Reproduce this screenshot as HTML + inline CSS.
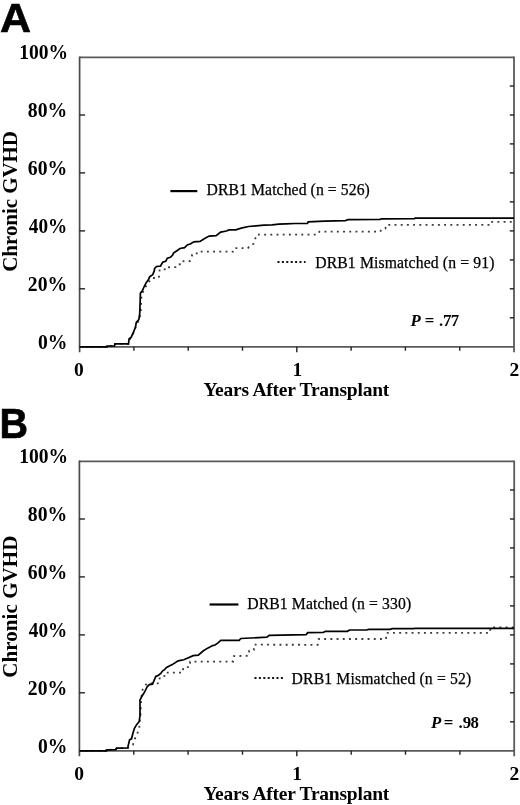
<!DOCTYPE html>
<html><head><meta charset="utf-8"><title>Chronic GVHD cumulative incidence</title><style>
html,body{margin:0;padding:0;background:#fff;}
body{width:520px;height:805px;overflow:hidden;}
svg{display:block;}
.lab{font-family:"Liberation Sans",sans-serif;font-weight:bold;font-size:39.5px;fill:#000;stroke:#000;stroke-width:0.6px;}
.tk{font-family:"Liberation Serif",serif;font-weight:bold;font-size:19.5px;fill:#000;}
.ytk{font-family:"Liberation Serif",serif;font-weight:bold;font-size:20.3px;fill:#000;}
.ttl{font-family:"Liberation Serif",serif;font-weight:bold;font-size:21px;fill:#000;}
.lg{font-family:"Liberation Serif",serif;font-size:15.7px;fill:#000;stroke:#000;stroke-width:0.25px;}
.pv{font-family:"Liberation Serif",serif;font-weight:bold;font-size:16.8px;fill:#000;}
</style></head><body>
<svg width="520" height="805" viewBox="0 0 520 805">
<path d="M79.6,57.3H514.0" stroke="#5a5a5a" stroke-width="1.7" fill="none"/>
<path d="M79.6,56.4V352.3" stroke="#4a4a4a" stroke-width="1.7" fill="none"/>
<path d="M514.0,56.4V352.3" stroke="#5a5a5a" stroke-width="1.8" fill="none"/>
<path d="M79.6,346.8H514.0" stroke="#5a5a5a" stroke-width="1.7" fill="none"/>
<path d="M79.6,288.8h5.5" stroke="#222" stroke-width="1.4"/>
<path d="M79.6,230.9h5.5" stroke="#222" stroke-width="1.4"/>
<path d="M79.6,172.9h5.5" stroke="#222" stroke-width="1.4"/>
<path d="M79.6,115.0h5.5" stroke="#222" stroke-width="1.4"/>
<path d="M514.0,317.8h-4.2" stroke="#222" stroke-width="1.4"/>
<path d="M514.0,288.8h-4.2" stroke="#222" stroke-width="1.4"/>
<path d="M514.0,259.9h-4.2" stroke="#222" stroke-width="1.4"/>
<path d="M514.0,230.9h-4.2" stroke="#222" stroke-width="1.4"/>
<path d="M514.0,201.9h-4.2" stroke="#222" stroke-width="1.4"/>
<path d="M514.0,172.9h-4.2" stroke="#222" stroke-width="1.4"/>
<path d="M514.0,143.9h-4.2" stroke="#222" stroke-width="1.4"/>
<path d="M514.0,115.0h-4.2" stroke="#222" stroke-width="1.4"/>
<path d="M514.0,86.0h-4.2" stroke="#222" stroke-width="1.4"/>
<path d="M133.9,346.8v3.9" stroke="#222" stroke-width="1.4"/>
<path d="M188.2,346.8v3.9" stroke="#222" stroke-width="1.4"/>
<path d="M242.5,346.8v3.9" stroke="#222" stroke-width="1.4"/>
<path d="M296.8,346.8v5.5" stroke="#222" stroke-width="1.4"/>
<path d="M351.1,346.8v3.9" stroke="#222" stroke-width="1.4"/>
<path d="M405.4,346.8v3.9" stroke="#222" stroke-width="1.4"/>
<path d="M459.7,346.8v3.9" stroke="#222" stroke-width="1.4"/>
<polyline points="79.6,346.8 107.0,346.8 107.0,346.0 114.5,346.0 115.0,343.8 128.5,343.8 130.0,339.0 133.0,334.0 135.0,329.0 137.0,324.0 139.5,319.0 140.8,312.0 141.2,300.0 141.6,294.0 143.5,291.0 145.5,287.0 147.5,283.5 150.0,280.5 151.9,278.0 158.8,278.0 159.6,270.4 164.6,270.4 164.9,267.3 177.3,267.2 178.5,264.5 183.1,264.0 183.5,261.2 190.0,261.0 191.2,257.7 192.3,254.6 196.5,254.4 197.2,251.7 233.1,251.7 234.4,248.1 247.9,248.1 249.9,245.4 253.3,244.0 253.9,240.7 256.0,237.3 256.6,234.6 317.7,234.6 319.4,231.7 380.2,231.7 381.6,229.2 385.4,228.4 386.2,224.9 490.0,224.9 490.5,221.9 514.0,221.9" fill="none" stroke="#3a3a3a" stroke-width="1.8" stroke-dasharray="1.9 4.3"/>
<polyline points="79.6,346.8 107.0,346.8 107.0,346.0 114.5,346.0 115.0,343.8 128.5,343.8 129.1,338.8 131.1,337.4 133.5,332.1 135.4,327.3 136.3,322.5 138.8,319.6 139.7,313.8 140.2,300.0 140.4,293.1 142.3,290.8 144.2,286.5 146.2,282.7 148.5,279.6 149.6,276.9 152.7,274.6 154.2,271.2 154.6,268.5 156.5,266.5 160.4,266.2 162.7,262.3 165.8,261.2 167.3,258.1 170.4,257.3 172.7,255.0 173.5,253.1 176.9,250.8 180.0,248.5 184.6,247.7 187.3,245.0 190.8,243.8 193.8,241.9 200.0,241.4 204.6,238.5 209.2,236.1 216.1,235.6 220.7,232.1 226.5,231.0 229.0,229.9 235.8,229.9 241.2,228.1 248.6,226.5 256.0,225.9 264.0,225.2 272.1,224.9 278.8,224.2 285.6,223.8 295.0,223.5 307.5,223.5 308.2,221.8 324.6,221.1 345.4,220.6 348.0,219.7 380.0,219.4 381.9,218.8 414.6,218.6 415.0,218.2 514.0,218.2" fill="none" stroke="#000" stroke-width="1.7"/>
<path d="M79.4,461.3H514.2" stroke="#5a5a5a" stroke-width="1.7" fill="none"/>
<path d="M79.4,460.4V756.3" stroke="#4a4a4a" stroke-width="1.7" fill="none"/>
<path d="M514.2,460.4V756.3" stroke="#5a5a5a" stroke-width="1.8" fill="none"/>
<path d="M79.4,750.8H514.2" stroke="#5a5a5a" stroke-width="1.7" fill="none"/>
<path d="M79.4,692.8h5.5" stroke="#222" stroke-width="1.4"/>
<path d="M79.4,634.9h5.5" stroke="#222" stroke-width="1.4"/>
<path d="M79.4,576.9h5.5" stroke="#222" stroke-width="1.4"/>
<path d="M79.4,519.0h5.5" stroke="#222" stroke-width="1.4"/>
<path d="M514.2,721.8h-4.2" stroke="#222" stroke-width="1.4"/>
<path d="M514.2,692.8h-4.2" stroke="#222" stroke-width="1.4"/>
<path d="M514.2,663.9h-4.2" stroke="#222" stroke-width="1.4"/>
<path d="M514.2,634.9h-4.2" stroke="#222" stroke-width="1.4"/>
<path d="M514.2,605.9h-4.2" stroke="#222" stroke-width="1.4"/>
<path d="M514.2,576.9h-4.2" stroke="#222" stroke-width="1.4"/>
<path d="M514.2,547.9h-4.2" stroke="#222" stroke-width="1.4"/>
<path d="M514.2,519.0h-4.2" stroke="#222" stroke-width="1.4"/>
<path d="M514.2,490.0h-4.2" stroke="#222" stroke-width="1.4"/>
<path d="M133.8,750.8v3.9" stroke="#222" stroke-width="1.4"/>
<path d="M188.1,750.8v3.9" stroke="#222" stroke-width="1.4"/>
<path d="M242.5,750.8v3.9" stroke="#222" stroke-width="1.4"/>
<path d="M296.8,750.8v5.5" stroke="#222" stroke-width="1.4"/>
<path d="M351.2,750.8v3.9" stroke="#222" stroke-width="1.4"/>
<path d="M405.5,750.8v3.9" stroke="#222" stroke-width="1.4"/>
<path d="M459.9,750.8v3.9" stroke="#222" stroke-width="1.4"/>
<polyline points="79.5,750.9 106.5,750.9 106.5,749.9 115.7,749.6 116.6,748.1 127.7,748.0 131.0,746.0 133.0,744.6 134.9,738.8 137.3,733.6 139.2,727.8 140.5,715.0 141.0,700.0 142.7,689.4 146.9,683.3 159.0,683.3 159.6,678.4 164.2,677.5 164.8,672.7 182.7,672.7 183.3,667.5 189.6,667.0 190.2,661.7 233.1,661.5 233.8,656.2 248.5,655.7 249.2,650.8 253.8,650.0 253.8,644.7 317.7,644.8 318.7,639.0 386.0,639.0 386.5,632.9 490.0,632.9 490.5,627.3 514.0,627.3" fill="none" stroke="#3a3a3a" stroke-width="1.8" stroke-dasharray="1.9 4.3"/>
<polyline points="79.5,750.9 106.5,750.9 106.5,749.9 115.7,749.6 116.6,748.1 127.7,748.0 128.2,745.6 129.6,739.8 131.5,738.8 133.0,733.1 134.4,728.3 136.8,724.4 139.2,721.5 139.7,717.7 140.0,716.0 140.0,700.0 141.9,696.2 143.5,693.8 145.4,690.4 147.3,686.5 149.4,684.6 152.5,684.2 153.8,681.2 155.8,676.5 158.5,675.2 160.8,673.3 162.7,670.8 164.6,669.6 166.5,667.5 172.3,664.6 178.1,660.9 183.8,659.8 188.4,657.7 193.1,655.6 198.3,655.1 203.4,650.8 208.1,647.9 212.7,645.6 215.0,645.0 217.7,643.1 220.8,640.3 239.2,640.3 240.8,638.5 266.9,637.2 269.2,635.4 306.2,634.6 307.7,632.7 323.5,632.3 325.4,631.3 347.5,631.3 349.4,630.0 366.7,630.0 368.7,629.4 390.0,629.4 392.3,628.7 413.0,628.7 415.4,628.3 514.0,628.3" fill="none" stroke="#000" stroke-width="1.7"/>
<text class="lab" transform="translate(0.1,31.7) scale(1.088,1.044)">A</text>
<text class="lab" transform="translate(-0.6,437.7) scale(1.0,1.07)">B</text>
<text class="ttl" transform="translate(17,201.35) rotate(-90)" text-anchor="middle" textLength="140.8">Chronic GVHD</text>
<text class="ttl" transform="translate(17,606.7) rotate(-90)" text-anchor="middle" textLength="142.2">Chronic GVHD</text>
<text class="ytk" x="38.00" y="348.55" textLength="29.42" lengthAdjust="spacingAndGlyphs">0%</text>
<text class="ytk" x="27.80" y="290.59" textLength="39.36" lengthAdjust="spacingAndGlyphs">20%</text>
<text class="ytk" x="28.80" y="232.63" textLength="38.36" lengthAdjust="spacingAndGlyphs">40%</text>
<text class="ytk" x="27.80" y="174.67" textLength="39.36" lengthAdjust="spacingAndGlyphs">60%</text>
<text class="ytk" x="27.80" y="116.71" textLength="39.36" lengthAdjust="spacingAndGlyphs">80%</text>
<text class="ytk" x="19.20" y="58.75" textLength="48.80" lengthAdjust="spacingAndGlyphs">100%</text>
<text class="ytk" x="38.00" y="752.55" textLength="29.42" lengthAdjust="spacingAndGlyphs">0%</text>
<text class="ytk" x="27.80" y="694.59" textLength="39.36" lengthAdjust="spacingAndGlyphs">20%</text>
<text class="ytk" x="28.80" y="636.63" textLength="38.36" lengthAdjust="spacingAndGlyphs">40%</text>
<text class="ytk" x="27.80" y="578.67" textLength="39.36" lengthAdjust="spacingAndGlyphs">60%</text>
<text class="ytk" x="27.80" y="520.71" textLength="39.36" lengthAdjust="spacingAndGlyphs">80%</text>
<text class="ytk" x="19.20" y="462.75" textLength="48.80" lengthAdjust="spacingAndGlyphs">100%</text>
<text class="tk" x="74.05" y="375.60">0</text>
<text class="tk" x="292.40" y="375.70">1</text>
<text class="tk" x="509.55" y="375.70">2</text>
<text class="tk" x="74.25" y="780.00">0</text>
<text class="tk" x="292.20" y="779.80">1</text>
<text class="tk" x="509.55" y="779.80">2</text>
<text class="tk" x="203.40" y="396.20" textLength="185.87">Years After Transplant</text>
<text class="tk" x="203.40" y="799.80" textLength="185.87">Years After Transplant</text>
<text class="lg" x="206.60" y="194.70" textLength="163.24">DRB1 Matched (n = 526)</text>
<text class="lg" x="315.20" y="267.50" textLength="179.17">DRB1 Mismatched (n = 91)</text>
<text class="lg" x="247.20" y="609.30" textLength="163.94">DRB1 Matched (n = 330)</text>
<text class="lg" x="291.60" y="683.50" textLength="179.57">DRB1 Mismatched (n = 52)</text>
<text class="pv" y="326.4"><tspan x="410.6" font-style="italic">P</tspan> <tspan x="424.86">=</tspan> <tspan x="438.96 442.94 450.74">.77</tspan></text>
<text class="pv" y="727.5"><tspan x="431.1" font-style="italic">P</tspan> <tspan x="443.76">=</tspan> <tspan x="458.46 462.84 470.54">.98</tspan></text>
<path d="M170.4,191.1H197.3" stroke="#000" stroke-width="2.2"/>
<path d="M277.5,262.1H305.5" stroke="#111" stroke-width="2" stroke-dasharray="2 2.4"/>
<path d="M209.6,604.5H238.4" stroke="#000" stroke-width="2.2"/>
<path d="M254.5,677.9H283.5" stroke="#111" stroke-width="2" stroke-dasharray="2 2.4"/>
</svg>
</body></html>
